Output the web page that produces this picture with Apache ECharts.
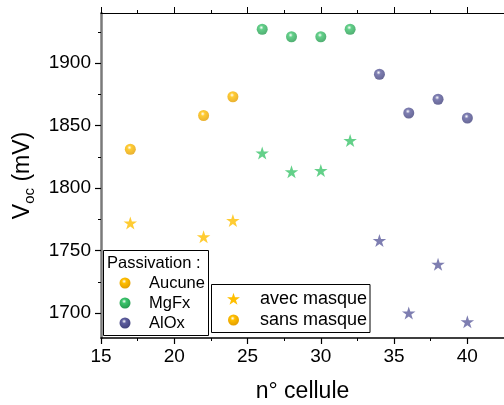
<!DOCTYPE html>
<html><head><meta charset="utf-8">
<script src="https://cdn.jsdelivr.net/npm/echarts@6/dist/echarts.min.js"></script>
<style>html,body{margin:0;padding:0;background:#fff}#c{width:504px;height:405px}</style>
</head><body><div id="c"></div>
<script>
// ---- data ----
const cellsNone = [17, 22, 24];
const cellsMgFx = [26, 28, 30, 32];
const cellsAlOx = [34, 36, 38, 40];
const vocNoneSans = [1831, 1858, 1873];
const vocNoneAvec = [1772, 1761, 1774];
const vocMgFxSans = [1927, 1921, 1921, 1927];
const vocMgFxAvec = [1828, 1813, 1814, 1838];
const vocAlOxSans = [1891, 1860, 1871, 1856];
const vocAlOxAvec = [1758, 1700, 1739, 1693];
const xTickLabels = [15, 20, 25, 30, 35, 40];
const xMinorTicks = [17.5, 22.5, 27.5, 32.5, 37.5, 42.5];
const yTickLabels = [1700, 1750, 1800, 1850, 1900];
const yMinorTicks = [1725, 1775, 1825, 1875, 1925];

const FONT = '"Liberation Sans", Arial, sans-serif';
const COL = { none: '#FFBF00', mgfx: '#3CC46C', alox: '#5E5E9E' };
const DARK = { none: '#E09A00', mgfx: '#23964C', alox: '#3E3E78' };
const STAR = 'path://M50,0 L61.2,34.5 L97.6,34.5 L68.2,55.9 L79.4,90.5 L50,69.1 L20.6,90.5 L31.8,55.9 L2.4,34.5 L38.8,34.5 Z';

function sphere(k) {
  return { type: 'radial', x: 0.42, y: 0.35, r: 0.7,
    colorStops: [{ offset: 0, color: '#ffffff' }, { offset: 0.28, color: COL[k] }, { offset: 1, color: DARK[k] }] };
}
function zip(xs, ys) { return xs.map((x, i) => [x, ys[i]]); }
function sans(k, xs, ys) {
  return { type: 'scatter', data: zip(xs, ys), symbol: 'circle', symbolSize: 11,
    itemStyle: { color: sphere(k) }, xAxisIndex: 0, yAxisIndex: 0, z: 3 };
}
function avec(k, xs, ys) {
  return { type: 'scatter', data: zip(xs, ys), symbol: STAR, symbolKeepAspect: true, symbolSize: 13.5,
    itemStyle: { color: COL[k] }, xAxisIndex: 0, yAxisIndex: 0, z: 3 };
}
function starPoints(cx, cy, size) {
  const pts = [[50,0],[61.2,34.5],[97.6,34.5],[68.2,55.9],[79.4,90.5],[50,69.1],[20.6,90.5],[31.8,55.9],[2.4,34.5],[38.8,34.5]];
  return pts.map(p => [cx + (p[0] - 50) * size / 100, cy + (p[1] - 47) * size / 100]);
}
function legendDot(k, cx, cy) {
  return { type: 'circle', shape: { cx: cx, cy: cy, r: 5.5 }, style: { fill: sphere(k) }, z: 20 };
}
function legendText(t, x, y, fs) {
  return { type: 'text', x: x, y: y, style: { text: t, font: fs + 'px ' + FONT, fill: '#000', textVerticalAlign: 'middle' }, z: 20 };
}

const X_MIN = 15, X_MAX = 42.5, Y_MIN = 1680, Y_MAX = 1940;
const baseX = { type: 'value', min: X_MIN, max: X_MAX, splitLine: { show: false } };
const baseY = { type: 'value', min: Y_MIN, max: Y_MAX, splitLine: { show: false } };

const chart = echarts.init(document.getElementById('c'));
chart.setOption({
  animation: false,
  grid: { left: 101, top: 13, right: 0, bottom: 67, containLabel: false, outerBoundsMode: 'none' },
  xAxis: [
    Object.assign({}, baseX, { position: 'bottom',
      name: 'n° cellule', nameLocation: 'middle', nameGap: 42,
      nameTextStyle: { fontSize: 23, fontFamily: FONT, color: '#000' },
      axisLine: { show: true, lineStyle: { color: '#000', width: 1.5 } },
      axisTick: { show: true, inside: false, length: 6, customValues: xTickLabels, lineStyle: { color: '#000', width: 1.2 } },
      axisLabel: { show: true, customValues: xTickLabels, fontSize: 19, fontFamily: FONT, color: '#000', margin: 9 } }),
    Object.assign({}, baseX, { position: 'bottom',
      axisLine: { show: false }, axisLabel: { show: false },
      axisTick: { show: true, inside: false, length: 3, customValues: xMinorTicks, lineStyle: { color: '#000', width: 1 } } }),
    Object.assign({}, baseX, { position: 'top',
      axisLine: { show: true, lineStyle: { color: '#000', width: 1.2 } }, axisLabel: { show: false },
      axisTick: { show: true, inside: false, length: 6, customValues: xTickLabels, lineStyle: { color: '#000', width: 1 } } }),
    Object.assign({}, baseX, { position: 'top',
      axisLine: { show: false }, axisLabel: { show: false },
      axisTick: { show: true, inside: false, length: 3, customValues: xMinorTicks, lineStyle: { color: '#000', width: 1 } } })
  ],
  yAxis: [
    Object.assign({}, baseY, { position: 'left',
      name: '{v|V}{s|oc}{v| (mV)}', nameLocation: 'middle', nameGap: 62, nameRotate: 90,
      nameTextStyle: { fontSize: 23, fontFamily: FONT, color: '#000',
        rich: {
          v: { fontSize: 23, fontFamily: FONT, color: '#000', lineHeight: 27, verticalAlign: 'top' },
          s: { fontSize: 15, fontFamily: FONT, color: '#000', lineHeight: 27, verticalAlign: 'bottom' } } },
      axisLine: { show: true, lineStyle: { color: '#7a7a7a', width: 2.5 } },
      axisTick: { show: true, inside: false, length: 6, customValues: yTickLabels, lineStyle: { color: '#000', width: 1.2 } },
      axisLabel: { show: true, customValues: yTickLabels, fontSize: 19, fontFamily: FONT, color: '#000', margin: 10,
        formatter: v => String(v) } }),
    Object.assign({}, baseY, { position: 'left',
      axisLine: { show: false }, axisLabel: { show: false },
      axisTick: { show: true, inside: false, length: 3, customValues: yMinorTicks, lineStyle: { color: '#000', width: 1 } } })
  ],
  series: [
    sans('none', cellsNone, vocNoneSans),
    avec('none', cellsNone, vocNoneAvec),
    sans('mgfx', cellsMgFx, vocMgFxSans),
    avec('mgfx', cellsMgFx, vocMgFxAvec),
    sans('alox', cellsAlOx, vocAlOxSans),
    avec('alox', cellsAlOx, vocAlOxAvec)
  ],
  graphic: [
    { type: 'rect', shape: { x: 103.5, y: 250.5, width: 105, height: 85 }, style: { fill: '#fff', stroke: '#000', lineWidth: 1 }, z: 10 },
    legendText('Passivation :', 107, 263, 16.5),
    legendDot('none', 125, 283), legendText('Aucune', 149, 283, 16.5),
    legendDot('mgfx', 125, 303), legendText('MgFx', 149, 303, 16.5),
    legendDot('alox', 125, 323), legendText('AlOx', 149, 323, 16.5),
    { type: 'rect', shape: { x: 211.5, y: 284.5, width: 158.5, height: 48 }, style: { fill: '#fff', stroke: '#000', lineWidth: 1 }, z: 10 },
    { type: 'polygon', shape: { points: starPoints(233.5, 299, 13.5) }, style: { fill: COL.none }, z: 20 },
    legendText('avec masque', 260, 299, 18),
    legendDot('none', 233.5, 320), legendText('sans masque', 260, 320, 18)
  ]
});
</script></body></html>
